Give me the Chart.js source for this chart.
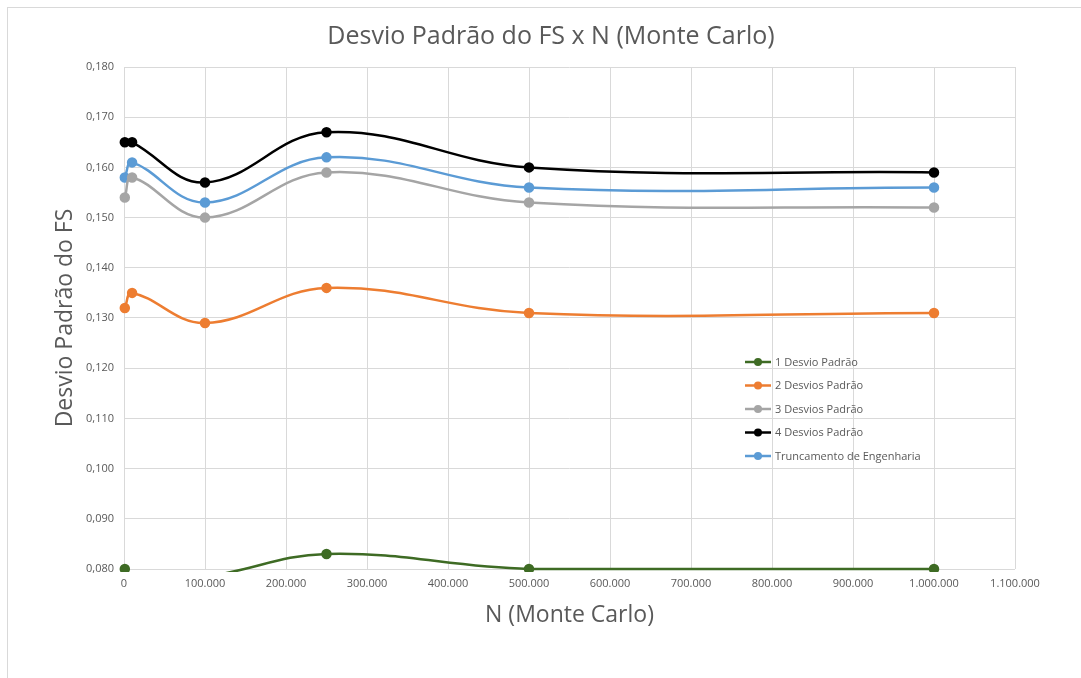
<!DOCTYPE html>
<html>
<head>
<meta charset="utf-8">
<script src="https://cdn.jsdelivr.net/npm/chart.js@4"></script>
<style>
  html, body { margin: 0; padding: 0; background: #fff; }
  #wrap { width: 1081px; height: 678px; position: relative; }
</style>
</head>
<body>
<div id="wrap"><canvas id="fsChart" width="1081" height="678"></canvas></div>
<script>
// N (Monte Carlo) sample sizes
var nValues = [1000, 10000, 100000, 250000, 500000, 1000000];

// standard deviation of FS for each truncation
var desvio1 = [0.080, 0.0785, 0.0785, 0.083, 0.080, 0.080];
var desvio2 = [0.132, 0.135, 0.129, 0.136, 0.131, 0.131];
var desvio3 = [0.154, 0.158, 0.150, 0.159, 0.153, 0.152];
var desvio4 = [0.165, 0.165, 0.157, 0.167, 0.160, 0.159];
var truncEng = [0.158, 0.161, 0.153, 0.162, 0.156, 0.156];

var seriesNames = ['1 Desvio Padrão', '2 Desvios Padrão', '3 Desvios Padrão', '4 Desvios Padrão', 'Truncamento de Engenharia'];
var seriesColors = ['#3e6b24', '#ed7d31', '#a5a5a5', '#000000', '#5b9bd5'];
var chartTitle = 'Desvio Padrão do FS x N (Monte Carlo)';

var FONT = "'Open Sans', 'Noto Sans', sans-serif";
var TXT = '#595959';

function toPoints(arr) {
    return arr.map(function (v, i) { return { x: nValues[i], y: v }; });
}

var allSeries = [desvio1, desvio2, desvio3, desvio4, truncEng];
var datasets = allSeries.map(function (s, i) {
    return {
        label: seriesNames[i],
        data: toPoints(s),
        borderColor: seriesColors[i],
        backgroundColor: seriesColors[i],
        borderWidth: 2.5,
        pointRadius: 4,
        pointHoverRadius: 4,
        tension: 0.4,
        clip: { left: 6, right: 6, top: 6, bottom: 3 }
    };
});

// outer frame and title (centred on the framed box, not the plot)
const framePlugin = {
    id: 'frame',
    beforeDraw(chart) {
        const c = chart.ctx;
        c.save();
        c.strokeStyle = '#d9d9d9';
        c.lineWidth = 1;
        c.strokeRect(7.5, 7.5, 1200, 800);
        c.fillStyle = TXT;
        c.font = '25px ' + FONT;
        c.textAlign = 'center';
        c.textBaseline = 'middle';
        c.fillText(chartTitle, 551, 37);
        c.restore();
    }
};

// legend drawn inside the plot area
const insideLegend = {
    id: 'insideLegend',
    afterDraw(chart) {
        const c = chart.ctx;
        c.save();
        c.font = '11px ' + FONT;
        c.textBaseline = 'middle';
        chart.data.datasets.forEach(function (ds, i) {
            const y = 362 + i * 23.5;
            c.strokeStyle = ds.borderColor;
            c.lineWidth = 2.5;
            c.beginPath();
            c.moveTo(745, y);
            c.lineTo(771, y);
            c.stroke();
            c.fillStyle = ds.borderColor;
            c.beginPath();
            c.arc(758, y, 4, 0, Math.PI * 2);
            c.fill();
            c.fillStyle = TXT;
            c.fillText(ds.label, 775, y + 0.5);
        });
        c.restore();
    }
};

const ctx = document.getElementById('fsChart');
const fsChart = new Chart(ctx, {
    type: 'line',
    data: { datasets: datasets },
    plugins: [framePlugin, insideLegend],
    options: {
        responsive: false,
        animation: false,
        layout: { padding: { left: 49, right: 66, top: 67, bottom: 46 } },
        plugins: {
            legend: { display: false },
            tooltip: { enabled: false },
            title: { display: false }
        },
        scales: {
            x: {
                type: 'linear',
                min: 0,
                max: 1100000,
                afterFit: function (s) { s.height = 63; },
                ticks: {
                    stepSize: 100000,
                    color: TXT,
                    padding: 8,
                    maxRotation: 0,
                    font: { family: FONT, size: 11 },
                    callback: function (v) {
                        return String(Math.round(v)).replace(/\B(?=(\d{3})+(?!\d))/g, '.');
                    }
                },
                grid: { color: '#d9d9d9', drawTicks: false },
                border: { display: false },
                title: {
                    display: true,
                    text: 'N (Monte Carlo)',
                    color: TXT,
                    font: { family: FONT, size: 23 },
                    padding: { top: 4, bottom: 3 }
                }
            },
            y: {
                min: 0.08,
                max: 0.18,
                afterFit: function (s) { s.width = 75; },
                ticks: {
                    stepSize: 0.01,
                    color: TXT,
                    padding: 10,
                    font: { family: FONT, size: 11 },
                    callback: function (v) { return v.toFixed(3).replace('.', ','); }
                },
                grid: { color: '#d9d9d9', drawTicks: false },
                border: { display: false },
                title: {
                    display: true,
                    text: 'Desvio Padrão do FS',
                    color: TXT,
                    font: { family: FONT, size: 23 },
                    padding: { top: 3, bottom: 4 }
                }
            }
        }
    }
});
</script>
</body>
</html>
